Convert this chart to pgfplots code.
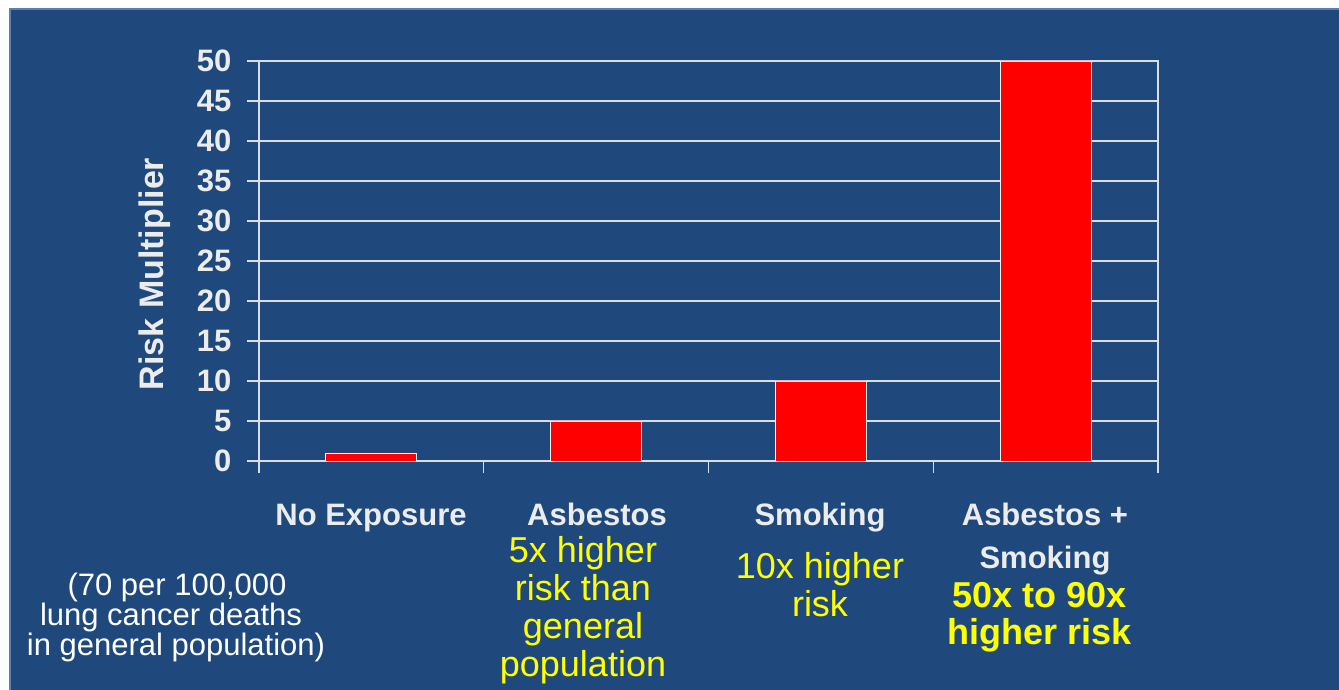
\documentclass[border=0pt]{standalone}
\usepackage{fontspec}
\setmainfont{Liberation Sans}
\usepackage{pgfplots}
\pgfplotsset{compat=1.18}
\definecolor{bg}{HTML}{1F497D}
\definecolor{bordercol}{HTML}{5A80B2}
\definecolor{labcol}{HTML}{ECECEC}
\definecolor{axcol}{HTML}{DADDE2}
\definecolor{barline}{HTML}{F0F0F0}
\definecolor{yel}{HTML}{FFFF00}
\newcommand\fs[1]{\fontsize{#1}{#1}\selectfont}
\begin{document}
\begin{tikzpicture}[x=1pt,y=1pt]
\useasboundingbox (0,0) rectangle (1339,690);
\fill[white] (0,0) rectangle (1339,690);
\fill[bg] (9,0) rectangle (1339,682);
\draw[bordercol, line width=2.5pt] (10,-5) -- (10,681) -- (1345,681);
\begin{axis}[
  at={(259pt,229pt)}, anchor=south west,
  scale only axis, width=899pt, height=400pt,
  xmin=-0.5, xmax=3.5, ymin=0, ymax=50,
  ybar, bar width=91pt,
  xtick={-0.5,0.5,1.5,2.5,3.5}, xticklabels={},
  ytick={0,5,...,50},
  tick align=outside, major tick length=12pt,
  xtick pos=bottom, ytick pos=left,
  axis line style={draw=axcol, line width=1.3pt},
  tick style={draw=axcol, line width=1.3pt},
  ymajorgrids, grid style={draw=axcol, line width=1.3pt},
  /pgf/number format/assume math mode=true,
  yticklabel style={font=\fs{31}\bfseries, text=labcol, anchor=east, xshift=-12pt},
]
\addplot[fill=red, draw=barline, line width=0.8pt] coordinates {(0,1) (1,5) (2,10) (3,50)};
\end{axis}
% y label
\node[rotate=90, text=labcol, font=\fs{34}\bfseries] at (155,416) {Risk Multiplier};
% category labels (white bold)
\begin{scope}[every node/.style={anchor=base, inner sep=0pt}]
\node[text=labcol, font=\fs{31}\bfseries] at (371,690-526) {No Exposure};
\node[text=labcol, font=\fs{31}\bfseries] at (597,690-526) {Asbestos};
\node[text=labcol, font=\fs{31}\bfseries] at (820,690-526) {Smoking};
\node[text=labcol, font=\fs{31}\bfseries] at (1045,690-526) {Asbestos +};
\node[text=labcol, font=\fs{31}\bfseries] at (1045,690-569) {Smoking};
% yellow notes
\node[text=yel, font=\fs{36}] at (583,690-563) {5x higher};
\node[text=yel, font=\fs{36}] at (583,690-601) {risk than};
\node[text=yel, font=\fs{36}] at (583,690-639) {general};
\node[text=yel, font=\fs{36}] at (583,690-677) {population};
\node[text=yel, font=\fs{36}] at (820,690-579) {10x higher};
\node[text=yel, font=\fs{36}] at (820,690-617) {risk};
\node[text=yel, font=\fs{36}\bfseries] at (1040,690-608) {50x to 90x};
\node[text=yel, font=\fs{36}\bfseries] at (1040,690-645) {higher risk};
% white note
\node[text=white, font=\fs{31}] at (177,690-596) {(70 per 100,000};
\node[text=white, font=\fs{31}] at (171,690-626) {lung cancer deaths};
\node[text=white, font=\fs{31}] at (176,690-656) {in general population)};
\end{scope}
\end{tikzpicture}
\end{document}
